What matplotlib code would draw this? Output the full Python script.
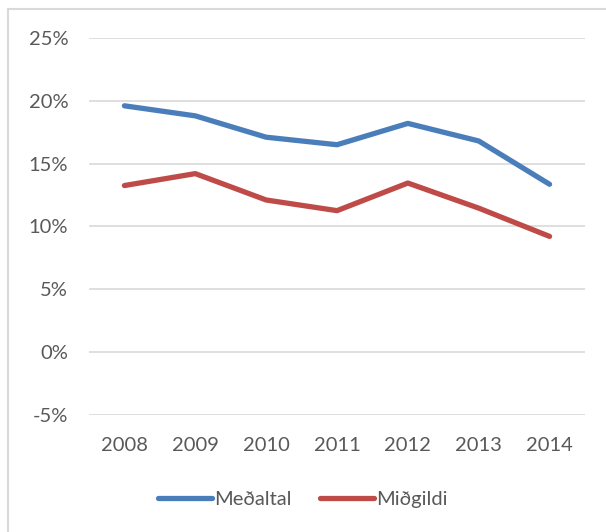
import matplotlib.pyplot as plt
from matplotlib.lines import Line2D
from matplotlib.ticker import FuncFormatter

years = ["2008", "2009", "2010", "2011", "2012", "2013", "2014"]
medaltal = [19.6, 18.8, 17.1, 16.5, 18.2, 16.8, 13.35]
midgildi = [13.25, 14.2, 12.1, 11.25, 13.45, 11.45, 9.2]
y_ticks = [-5, 0, 5, 10, 15, 20, 25]

plt.rcParams["font.family"] = ["Lato", "DejaVu Sans"]

fig = plt.figure(figsize=(6.06, 5.32), dpi=100)
ax = fig.add_axes([89 / 606, 1 - 414.7 / 532, (585 - 89) / 606, (414.7 - 38) / 532])

x = list(range(len(years)))
ax.plot(x, medaltal, color="#4A7EBB", lw=3.8, solid_capstyle="round", label="Meðaltal")
ax.plot(x, midgildi, color="#BE4B48", lw=3.8, solid_capstyle="round", label="Miðgildi")

ax.set_xlim(-0.5, len(years) - 0.5)
ax.set_ylim(-5, 25)
ax.set_yticks(y_ticks)
ax.yaxis.set_major_formatter(FuncFormatter(lambda v, p: f"{v:.0f}%"))
ax.set_xticks(x)
ax.set_xticklabels(years)
ax.grid(axis="y", color="#D9D9D9", lw=1.2)
ax.set_axisbelow(True)
for s in ax.spines.values():
    s.set_visible(False)
ax.tick_params(length=0, labelsize=14.5, labelcolor="#595959")
ax.tick_params(axis="y", pad=15)
ax.tick_params(axis="x", pad=16)

leg = fig.legend(loc="center", bbox_to_anchor=(0.5, 1 - 499 / 532), ncol=2, frameon=False,
                 fontsize=14.5, handlelength=2.7, handletextpad=0.1, columnspacing=1.4)
for t in leg.get_texts():
    t.set_color("#595959")

# chart area border
fig.add_artist(Line2D([8 / 606, 1], [1 - 8.7 / 532] * 2, transform=fig.transFigure, color="#D9D9D9", lw=1.5))
fig.add_artist(Line2D([8 / 606] * 2, [0, 1 - 8.7 / 532], transform=fig.transFigure, color="#D9D9D9", lw=1.5))

fig.savefig("out.png", dpi=100)
